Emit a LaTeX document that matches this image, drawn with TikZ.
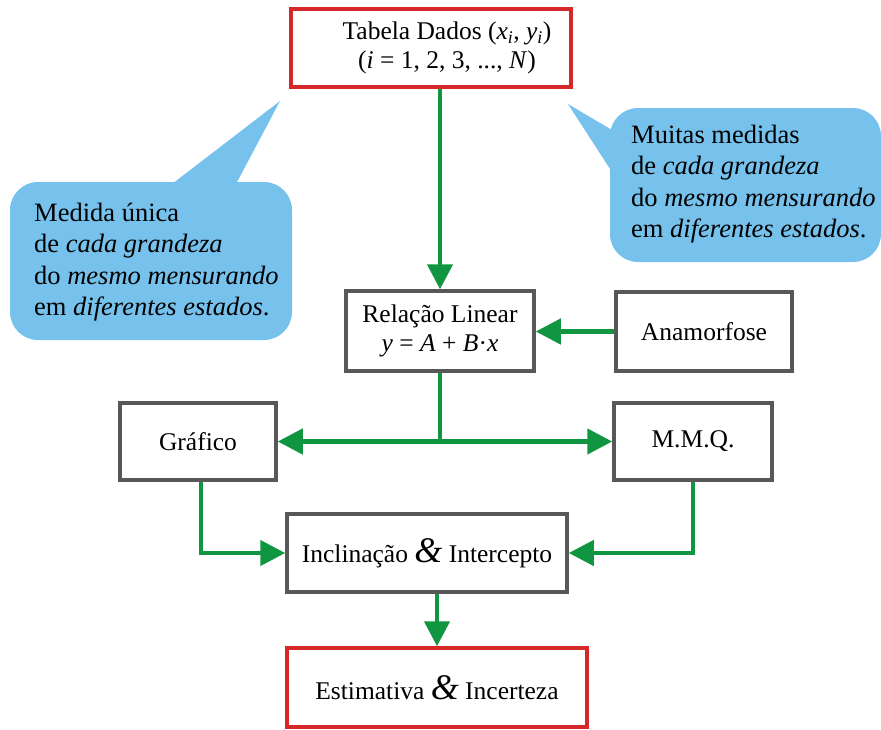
\documentclass[tikz,border=0pt]{standalone}
\usepackage{fontspec}
\setmainfont{Liberation Serif}
\usetikzlibrary{arrows.meta,positioning}
\definecolor{rahmenrot}{RGB}{214,40,40}
\definecolor{rahmengrau}{RGB}{88,88,88}
\definecolor{pfeilgruen}{RGB}{16,150,64}
\definecolor{blasenblau}{RGB}{118,194,236}
\newcommand{\undzeichen}{{\fontsize{36}{36}\selectfont\textit{\&}}}
\tikzset{
  kasten/.style={draw=rahmengrau, line width=3.5pt, fill=white, inner sep=0pt,
    font=\fontsize{25.5}{29}\selectfont, align=center},
  kastenrot/.style={kasten, draw=rahmenrot},
  pfeil/.style={draw=pfeilgruen, line width=4.5pt, -{Triangle[length=25pt,width=25pt]}},
  linie/.style={draw=pfeilgruen, line width=4.5pt},
  blase/.style={fill=blasenblau, rounded corners=28pt},
  blasentext/.style={anchor=west, align=left, inner sep=0pt,
    font=\fontsize{26.5}{31.5}\selectfont},
}
\begin{document}
\begin{tikzpicture}[x=1pt, y=-1pt]
  \useasboundingbox (0,0) rectangle (881,729);
  % Sprechblase links
  \fill[blase] (10,182) rectangle (292,340);
  \fill[blasenblau] (172,184) -- (280,101) -- (236,184) -- cycle;
  \node[blasentext] (einzeln) at (34,262)
    {Medida única\\de \textit{cada grandeza}\\do \textit{mesmo mensurando}\\em \textit{diferentes estados}.};
  % Sprechblase rechts
  \fill[blase] (610,108) rectangle (881,262);
  \fill[blasenblau] (612,130) -- (568,104) -- (612,172) -- cycle;
  \node[blasentext] (viele) at (631,184)
    {Muitas medidas\\de \textit{cada grandeza}\\do \textit{mesmo mensurando}\\em \textit{diferentes estados}.};
  % Kaesten
  \node[kastenrot, minimum width=280pt, minimum height=78pt] (tabela) at (431,48) {};
  \node[font=\fontsize{25.5}{29}\selectfont, align=center] (tabelatext) at (447,48)
    {Tabela Dados (\textit{x}\textsubscript{\textit{i}}, \textit{y}\textsubscript{\textit{i}})\\(\textit{i} = 1, 2, 3, ..., \textit{N})};
  \node[kasten, minimum width=188pt, minimum height=80pt] (relacao) at (440,331)
    {Relação Linear\\\textit{y} = \textit{A} + \textit{B}·\textit{x}};
  \node[kasten, minimum width=176pt, minimum height=79pt] (anamorfose) at (704,331.5) {Anamorfose};
  \node[kasten, minimum width=156pt, minimum height=77pt] (grafico) at (198,441.5) {Gráfico};
  \node[kasten, minimum width=158pt, minimum height=77pt] (mmq) at (693,441.5) {M.M.Q.};
  \node[kasten, minimum width=280pt, minimum height=78pt] (inclinacao) at (427,553)
    {Inclinação \undzeichen{} Intercepto};
  \node[kastenrot, minimum width=300pt, minimum height=79pt] (estimativa) at (437,687.5)
    {Estimativa \undzeichen{} Incerteza};
  % Pfeile
  \coordinate (verzweigung) at (440,441.5);
  \draw[pfeil] (tabela.south -| relacao.north) -- (relacao.north);
  \draw[pfeil] (anamorfose.west) -- (relacao.east |- anamorfose.west);
  \draw[linie] (relacao.south) -- (verzweigung);
  \draw[pfeil] (verzweigung) -- (grafico.east);
  \draw[pfeil] (verzweigung) -- (mmq.west);
  \draw[pfeil] ([xshift=3pt]grafico.south) |- (inclinacao.west);
  \draw[pfeil] (mmq.south) |- (inclinacao.east);
  \draw[pfeil] (inclinacao.south -| estimativa.north) -- (estimativa.north);
\end{tikzpicture}
\end{document}
